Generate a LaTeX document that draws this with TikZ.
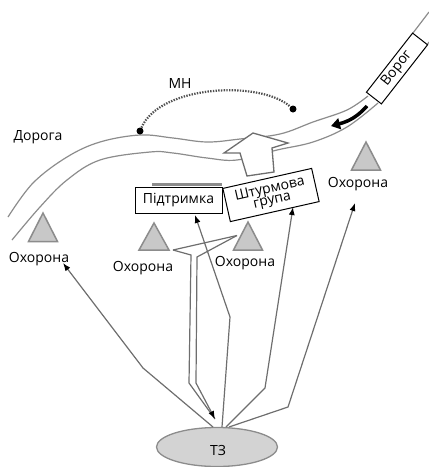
\documentclass[tikz,border=0pt]{standalone}
\usepackage{fontspec}
\setmainfont{Open Sans}
\usetikzlibrary{arrows.meta,shapes.geometric}
\definecolor{roadc}{HTML}{8C8C8C}
\definecolor{linec}{HTML}{6E6E6E}
\definecolor{dotc}{HTML}{505050}
\definecolor{trifill}{HTML}{C8C8C8}
\begin{document}
\begin{tikzpicture}[x=1pt,y=-1pt,
  lbl/.style={font=\fontsize{14}{14}\selectfont, inner sep=0pt},
  road/.style={draw=roadc, line width=1.2pt},
  tri/.style={draw=roadc, fill=trifill, line width=1.5pt, line join=miter},
  conn/.style={draw=linec, line width=1.2pt, -{Latex[length=8pt,width=6pt,black]}},
  connp/.style={draw=linec, line width=1.2pt},
  boxs/.style={draw=black, fill=white, line width=1pt, inner sep=0pt, font=\fontsize{14}{11.5}\selectfont, align=center}
  ]
\useasboundingbox (0,0) rectangle (429,467);
% road
\draw[road] plot[smooth, tension=0.6] coordinates {(8,217) (33,183) (67,157) (100,142) (140,135) (173,138) (207,142) (240,139) (280,134) (313,122) (347,110) (368,96)};
\draw[road] plot[smooth, tension=0.6] coordinates {(12,240) (40,207) (67,180) (100,160) (150,152) (173,153) (207,158) (237,160) (277,150) (313,142) (347,127) (378,103)};
\draw[road] (413,33) -- (429,12);
\draw[road] (427,45) -- (429,42);
% enemy
\node[boxs, rotate=52, minimum width=75pt, minimum height=19pt] (vorog) at (397,68.5) {Ворог};
\draw[black, line width=3.5pt, -{Triangle[length=9pt,width=11pt]}] (367,106) .. controls (358,116) and (350,121) .. (331,126);
% big hollow arrow
\draw[draw=linec, fill=white, line width=1.3pt, line join=miter] (253,133) -- (288,143) -- (272,148) -- (274,172) -- (247,176) -- (240,153) -- (224,153) -- cycle;
% MH
\node[circle, fill=black, inner sep=0pt, minimum size=7pt] (m1) at (140,131) {};
\node[circle, fill=black, inner sep=0pt, minimum size=7pt] (m2) at (293,109) {};
\draw[dotc, line width=2.2pt, dash pattern=on 1.4pt off 1.3pt] (m1) .. controls (160,85) and (260,80) .. (m2);
\node[lbl] (mn) at (180,83) {МН};
\node[lbl] (doroga) at (38,137) {Дорога};
% triangles
\coordinate (t1) at (43,213);
\coordinate (t2) at (154,223);
\coordinate (t3) at (248,222);
\coordinate (t4) at (366,142);
\draw[tri] (t1) -- ++(14.5,28.5) -- ++(-29,0) -- cycle;
\draw[tri] (t2) -- ++(15,27) -- ++(-30,0) -- cycle;
\draw[tri] (t3) -- ++(14.5,28) -- ++(-29,0) -- cycle;
\draw[tri] (t4) -- ++(14.5,28) -- ++(-29,0) -- cycle;
\node[lbl] (o1) at (39,259) {Охорона};
\node[lbl] (o2) at (143,268) {Охорона};
\node[lbl] (o3) at (245,263) {Охорона};
\node[lbl] (o4) at (358,184) {Охорона};
% boxes
\draw[roadc, line width=3pt] (152,184.5) -- (222,184.5);
\node[boxs, minimum width=87pt, minimum height=26pt] (pid) at (178.5,200) {Підтримка};
\node[boxs, rotate=12.7, minimum width=91pt, minimum height=34pt] (sht) at (271,195) {Штурмова\\група};
% TZ
\node[ellipse, draw=roadc, fill=trifill!80!white, line width=1.3pt, minimum width=121pt, minimum height=39pt, inner sep=0pt] (tz) at (217,447) {};
\node[lbl] (tzl) at (218,450) {ТЗ};
% connectors
\coordinate (a1) at (63,263);
\coordinate (a2) at (195,215);
\coordinate (a3) at (293,207);
\coordinate (a4) at (355,203);
\coordinate (s1) at (213,427);
\coordinate (s2) at (222,427);
\coordinate (s3) at (226,427);
\coordinate (s4) at (229,427);
\draw[conn] (s1) -- (143,368) -- (a1);
\draw[conn] (s2) -- (230,317) -- (a2);
\draw[conn] (s3) -- (265,388) -- (a3);
\draw[conn] (s4) -- (288,407) -- (a4);
% double line from guard posts
\coordinate (g2) at (173,250);
\coordinate (g3) at (237,235.5);
\coordinate (e1) at (215,419);
\draw[connp] (g2) -- (g3);
\draw[connp] (g2) -- (191,255) -- (189,383) -- (e1);
\draw[conn] (g3) -- (197,257) -- (196,383) -- (e1);
\end{tikzpicture}
\end{document}
